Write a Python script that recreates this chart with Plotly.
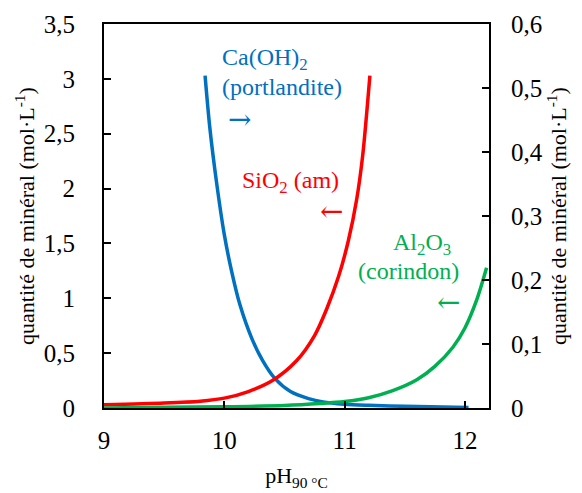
import plotly.graph_objects as go

# Ca(OH)2 (portlandite), left axis
ph_caoh2 = [9.84, 9.88, 9.94, 10.0, 10.06, 10.13, 10.23, 10.32, 10.42, 10.55, 10.7, 10.82, 11.0, 11.2, 11.5, 12.03]
q_caoh2 = [3.03, 2.55, 2.02, 1.58, 1.25, 0.94, 0.63, 0.43, 0.27, 0.15, 0.085, 0.055, 0.035, 0.025, 0.015, 0.005]

# SiO2 (am), left axis
ph_sio2 = [9.0, 9.5, 9.8, 10.0, 10.2, 10.4, 10.6, 10.75, 10.85, 10.95, 11.03, 11.1, 11.15, 11.21]
q_sio2 = [0.03, 0.045, 0.062, 0.09, 0.15, 0.25, 0.43, 0.66, 0.9, 1.2, 1.52, 1.9, 2.3, 3.03]

# Al2O3 (corindon), right axis
ph_al2o3 = [9.0, 9.5, 10.0, 10.5, 10.8, 11.0, 11.2, 11.4, 11.6, 11.75, 11.9, 12.0, 12.1, 12.18]
q_al2o3 = [0.0, 0.001, 0.002, 0.004, 0.007, 0.01, 0.016, 0.027, 0.044, 0.065, 0.095, 0.125, 0.17, 0.219]

x_ticks = [9, 10, 11, 12]
y_ticks = [0, 0.5, 1, 1.5, 2, 2.5, 3, 3.5]
y2_ticks = [0, 0.1, 0.2, 0.3, 0.4, 0.5, 0.6]

BLUE = "#0070C0"
RED = "#FF0000"
GREEN = "#00B050"
FONT = "Liberation Serif"

fig = go.Figure()
fig.add_trace(go.Scatter(x=ph_caoh2, y=q_caoh2, mode="lines",
                         line=dict(color=BLUE, width=3.5, shape="spline", smoothing=0.8), showlegend=False))
fig.add_trace(go.Scatter(x=ph_sio2, y=q_sio2, mode="lines",
                         line=dict(color=RED, width=3.5, shape="spline", smoothing=0.8), showlegend=False))
fig.add_trace(go.Scatter(x=ph_al2o3, y=q_al2o3, mode="lines",
                         line=dict(color=GREEN, width=3.5, shape="spline", smoothing=0.8),
                         yaxis="y2", showlegend=False))

axis_common = dict(
    showgrid=False, zeroline=False, showline=True, linecolor="black", linewidth=2,
    ticks="inside", ticklen=7, tickwidth=1.5, tickcolor="black", automargin=False,
    tickfont=dict(family=FONT, size=25, color="black"),
)

title_txt = "quantité de minéral (mol·L<sup>-1</sup>)"

# the page puts the figure 8 px in from the top-left corner
fig.update_layout(
    width=582, height=493,
    margin=dict(l=96, r=101, t=16, b=93),
    plot_bgcolor="white", paper_bgcolor="white",
    separators=", ",
    font=dict(family=FONT, color="black"),
    xaxis=dict(axis_common, range=[9, 12.2], tickvals=x_ticks, mirror=True, ticklabelstandoff=9,
               title=dict(text="pH<sub>90 °C</sub>", font=dict(family=FONT, size=22), standoff=15)),
    yaxis=dict(axis_common, range=[0, 3.5], tickvals=y_ticks, ticklabelstandoff=22,
               title=dict(text=title_txt, font=dict(family=FONT, size=22), standoff=3)),
    yaxis2=dict(axis_common, range=[0, 0.6], tickvals=y2_ticks, overlaying="y", side="right", ticklabelstandoff=15,
                title=dict(text=title_txt, font=dict(family=FONT, size=22), standoff=9)),
)

def label(text, x, y, color, xanchor="left", family=FONT, size=24):
    fig.add_annotation(text=text, x=x, y=y, xref="x", yref="y", showarrow=False,
                       xanchor=xanchor, yanchor="middle",
                       font=dict(family=family, size=size, color=color))

label("Ca(OH)<sub>2</sub>", 9.96, 3.18, BLUE)
label("(portlandite)", 9.96, 2.93, BLUE)
label("→", 10.13, 2.63, BLUE, "center", "DejaVu Serif", 28)
label("SiO<sub>2</sub> (am)", 10.13, 2.06, RED)
label("←", 10.895, 1.79, RED, "center", "DejaVu Serif", 28)
label("Al<sub>2</sub>O<sub>3</sub>", 11.64, 1.495, GREEN, "center")
label("(corindon)", 11.527, 1.25, GREEN, "center")
label("←", 11.86, 0.966, GREEN, "center", "DejaVu Serif", 28)

fig.write_html("out.html")
